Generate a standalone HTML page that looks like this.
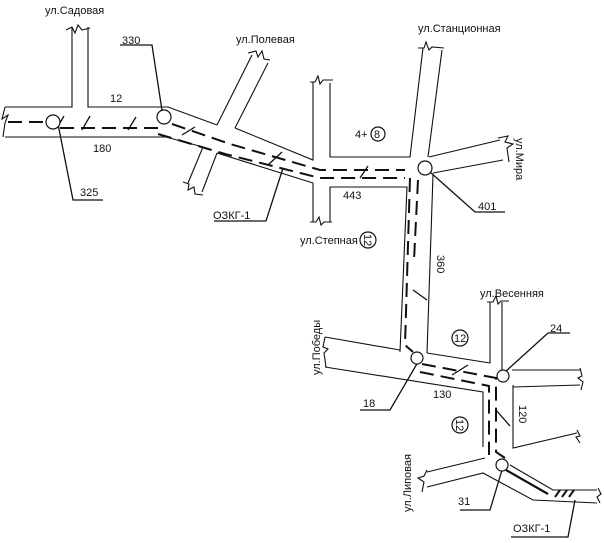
<!DOCTYPE html>
<html><head><meta charset="utf-8"><style>
html,body{margin:0;padding:0;background:#fff;}
svg{display:block}
text{font-family:"Liberation Sans","DejaVu Sans",sans-serif;font-size:11px;fill:#111}
</style></head><body>
<svg width="604" height="543" viewBox="0 0 604 543" xmlns="http://www.w3.org/2000/svg">
<g fill="none" stroke="#111" stroke-width="1.1">
<polyline points="5,107 72,107 72,27"/>
<polyline points="88,27 88,107 168,107 217,125"/>
<polyline points="5,137 166,137 203,147"/>
<path d="M66,30 l6,-3 l3,6 l3,-8 l4,5 l8,-2"/>
<path d="M5,107 l-3,12 l6,-4 l-3,8 l-2,14"/>
<line x1="252" y1="55" x2="217" y2="125"/>
<line x1="268" y1="63" x2="235" y2="128"/>
<line x1="203" y1="147" x2="188" y2="183"/>
<line x1="217" y1="153" x2="202" y2="192"/>
<path d="M248,53 l8,-2 l2,6 l4,-6 l2,8 l6,1"/>
<path d="M183,182 l6,2 l-1,6 l6,-3 l1,7 l8,1"/>
<polyline points="235,128 313,160 313,82"/>
<polyline points="330,83 330,157 410,157 423,48"/>
<polyline points="217,153 313,183 313,222"/>
<polyline points="330,222 330,187 407,187 400,352"/>
<path d="M310,82 l5,0 l3,-6 l2,8 l3,-4 l10,0"/>
<path d="M310,222 l6,0 l3,-5 l2,8 l3,-3 l8,0"/>
<line x1="428" y1="157" x2="442" y2="50"/>
<path d="M418,48 l6,0 l2,-6 l3,8 l3,-3 l12,1"/>
<line x1="429" y1="157" x2="500" y2="140"/>
<line x1="433" y1="173" x2="503" y2="160"/>
<path d="M498,138 l10,-2 l-3,6 l8,2 l-6,4 l2,14"/>
<line x1="433" y1="175" x2="427" y2="353"/>
<polyline points="325,337 400,350"/>
<polyline points="325,367 483,392 483,447"/>
<path d="M325,337 l-2,10 l5,2 l-4,4 l2,14"/>
<polyline points="427,353 490,363 490,302"/>
<polyline points="502,302 502,372"/>
<path d="M487,302 l6,0 l3,-6 l2,8 l3,-3 l8,0"/>
<line x1="512" y1="370" x2="580" y2="370"/>
<polyline points="513,387 580,385"/>
<path d="M580,368 l2,8 l-4,2 l5,4 l-2,8"/>
<polyline points="513,385 513,448 577,433"/>
<path d="M577,430 l3,6 l-4,1 l4,6"/>
<line x1="427" y1="472" x2="485" y2="458"/>
<polyline points="427,487 483,473 533,500 597,503"/>
<path d="M427,470 l-3,6 l-6,2 l6,4 l-2,10"/>
<polyline points="510,465 553,490 597,490"/>
<polyline points="506,470 548,494" stroke-width="2.2"/>
<path d="M598,488 l3,6 l-4,3 l3,6"/>
<path d="M555,497 l5,-7 M562,497 l5,-7 M569,497 l5,-7" stroke-width="2"/>
</g>
<g fill="none" stroke="#111" stroke-width="2" stroke-dasharray="14,7">
<polyline points="8,122 48,122"/>
<polyline points="60,128 160,128"/>
<polyline points="172,124 230,144 320,170 405,170"/>
<polyline points="158,134 225,154 320,178 405,178"/>
<polyline points="410,178 405,345 413,352"/>
<polyline points="418,180 414,260"/>
<polyline points="422,364 496,378 496,452 505,458"/>
<polyline points="420,372 489,386 489,455"/>
</g>
<g fill="none" stroke="#111" stroke-width="1.3">
<line x1="57" y1="128" x2="64" y2="116"/><line x1="82" y1="130" x2="90" y2="116"/>
<line x1="128" y1="130" x2="136" y2="117"/><line x1="182" y1="135" x2="195" y2="127"/>
<line x1="268" y1="165" x2="282" y2="152"/><line x1="360" y1="178" x2="368" y2="166"/>
<line x1="413" y1="290" x2="427" y2="300"/><line x1="452" y1="375" x2="468" y2="365"/>
<line x1="496" y1="410" x2="510" y2="426"/>
<polyline points="58,124 73,200 103,200"/>
<polyline points="120,45 152,45 163,117"/>
<polyline points="214,221 266,221 283,168"/>
<polyline points="430,172 475,212 505,212"/>
<polyline points="418,362 390,410 360,410"/>
<polyline points="505,372 548,333 570,333"/>
<polyline points="502,470 490,510 460,510"/>
<polyline points="511,537 568,537 575,500"/>
</g>
<g fill="#fff" stroke="#111" stroke-width="1.2">
<circle cx="53" cy="122" r="7"/><circle cx="164" cy="117" r="7"/>
<circle cx="425" cy="168" r="7"/><circle cx="417" cy="358" r="6"/>
<circle cx="503" cy="376" r="6"/><circle cx="502" cy="465" r="6"/>
<circle cx="378" cy="134" r="7"/><circle cx="368" cy="240" r="8"/>
<circle cx="460" cy="338" r="8"/><circle cx="460" cy="425" r="8"/>
</g>
<text x="45" y="14">ул.Садовая</text>
<text x="122" y="44">330</text>
<text x="236" y="43">ул.Полевая</text>
<text x="418" y="32">ул.Станционная</text>
<text x="110" y="102">12</text>
<text x="93" y="152">180</text>
<text x="80" y="196">325</text>
<text x="213" y="219">ОЗКГ-1</text>
<text x="355" y="138">4+</text>
<text x="374" y="138" font-size="10">8</text>
<text x="343" y="199">443</text>
<text x="478" y="210">401</text>
<text x="300" y="244">ул.Степная</text>
<text transform="translate(364,234) rotate(90)" font-size="10">12</text>
<text transform="translate(437,255) rotate(90)">360</text>
<text transform="translate(516,138) rotate(90)">ул.Мира</text>
<text x="480" y="297">ул.Весенняя</text>
<text x="550" y="332">24</text>
<text x="454" y="342" font-size="10">12</text>
<text transform="translate(320,375) rotate(-90)">ул.Победы</text>
<text x="363" y="407">18</text>
<text x="433" y="398">130</text>
<text transform="translate(456,419) rotate(90)" font-size="10">12</text>
<text transform="translate(519,405) rotate(90)">120</text>
<text transform="translate(411,512) rotate(-90)">ул.Липовая</text>
<text x="458" y="505">31</text>
<text x="513" y="532">ОЗКГ-1</text>
</svg>
</body></html>
